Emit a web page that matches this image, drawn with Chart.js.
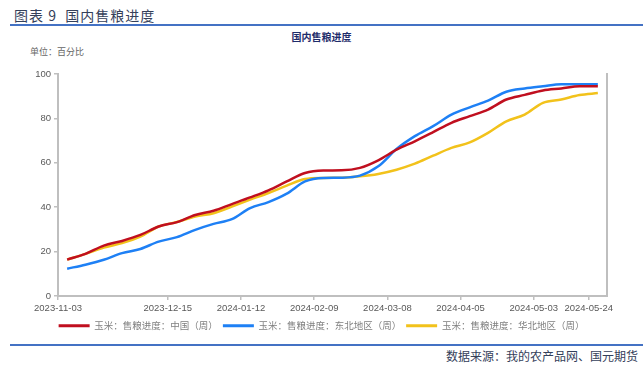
<!DOCTYPE html>
<html>
<head>
<meta charset="utf-8">
<script src="https://cdn.jsdelivr.net/npm/chart.js@4.4.1/dist/chart.umd.min.js"></script>
<style>
  html, body { margin:0; padding:0; background:#fff; }
  body { width:643px; height:367px; position:relative; overflow:hidden; font-family:"Noto Sans CJK SC", sans-serif; }
  #head { position:absolute; left:14px; top:5px; font-size:14px; color:#34405a; letter-spacing:1px; }
  #topRule { position:absolute; left:10px; right:0; top:24px; height:2px; background:#4472c4; }
  #title { position:absolute; left:0; width:643px; top:29px; text-align:center; font-size:10px; font-weight:bold; color:#1f2d6b; }
  #unit { position:absolute; left:30px; top:45px; font-size:9px; color:#666; }
  #wrap { position:absolute; left:0; top:60px; width:643px; height:272px; }
  #botRule { position:absolute; left:10px; right:0; top:344px; height:2px; background:#4472c4; }
  #src { position:absolute; right:5px; top:347px; font-size:12px; color:#34405a; }
</style>
</head>
<body>
<div id="head">图表 9&nbsp; 国内售粮进度</div>
<div id="topRule"></div>
<div id="title">国内售粮进度</div>
<div id="unit">单位：百分比</div>
<div id="wrap"><canvas id="c"></canvas></div>
<div id="botRule"></div>
<div id="src">数据来源：我的农产品网、国元期货</div>
<script>
// ============ Data ============
const DATES = [
  "2023-11-03","2023-11-10","2023-11-17","2023-11-24","2023-12-01","2023-12-08",
  "2023-12-15","2023-12-22","2023-12-29","2024-01-05","2024-01-12","2024-01-19",
  "2024-01-26","2024-02-02","2024-02-09","2024-02-16","2024-02-23","2024-03-01",
  "2024-03-08","2024-03-15","2024-03-22","2024-03-29","2024-04-05","2024-04-12",
  "2024-04-19","2024-04-26","2024-05-03","2024-05-10","2024-05-17","2024-05-24"
];
const TICK_DATES = ["2023-11-03","2023-12-15","2024-01-12","2024-02-09","2024-03-08","2024-04-05","2024-05-03","2024-05-24"];

const CHINA = [16.4,19.0,22.7,24.8,27.5,31.3,33.3,36.5,38.4,41.4,44.4,47.6,51.6,55.4,56.5,56.6,57.7,61.1,65.9,69.7,73.8,78.0,81.0,84.0,88.5,90.6,92.6,93.5,94.5,94.5];
const NORTHEAST = [12.3,14.1,16.3,19.3,21.2,24.5,26.5,29.8,32.5,34.6,39.6,42.3,46.1,51.6,53.2,53.3,54.2,58.4,66.2,72.0,76.5,81.7,85.0,88.0,92.0,93.5,94.5,95.4,95.4,95.4];
const NORTH = [16.4,19.0,21.8,23.8,26.8,31.3,33.3,35.8,37.3,40.3,43.4,46.4,49.7,52.7,53.2,53.3,53.9,55.0,56.9,59.6,63.2,66.7,69.2,73.5,78.7,81.7,87.0,88.5,90.5,91.4];

const NAMES = ["玉米：售粮进度：中国（周）","玉米：售粮进度：东北地区（周）","玉米：售粮进度：华北地区（周）"];
const COLORS = ["#c00f1f","#1e80f5","#f2c21b"];

// ============ Build ============
const series = [CHINA, NORTHEAST, NORTH];
const tickIdx = TICK_DATES.map(d => DATES.indexOf(d));

const datasets = series.map((arr, k) => ({
  label: NAMES[k],
  data: arr.map((v, i) => ({ x: i, y: v })),
  borderColor: COLORS[k],
  backgroundColor: COLORS[k],
  borderWidth: 2.5,
  pointRadius: 0,
  tension: 0.4,
  cubicInterpolationMode: "monotone"
}));

const AXIS = "#bfbfbf";
const LABEL = "#595959";

new Chart(document.getElementById("c"), {
  type: "line",
  data: { datasets },
  options: {
    responsive: true,
    maintainAspectRatio: false,
    animation: false,
    layout: { padding: { left: 0, right: 0, top: 14, bottom: 0 } },
    scales: {
      x: {
        type: "linear",
        min: -0.5,
        max: DATES.length - 0.5,
        afterBuildTicks: s => { s.ticks = tickIdx.map(i => ({ value: i - 0.5 })); },
        afterFit: s => { s.height = 20; },
        ticks: {
          autoSkip: false, maxRotation: 0, padding: 3,
          color: LABEL, font: { size: 9.5, family: "Liberation Sans" },
          callback: v => DATES[Math.round(v + 0.5)]
        },
        grid: { drawOnChartArea: false, tickLength: 4, color: AXIS, lineWidth: 1.5 },
        border: { color: AXIS, width: 2 }
      },
      y: {
        min: 0, max: 100,
        afterFit: s => { s.width = 58; },
        ticks: { stepSize: 20, padding: 3, color: LABEL, font: { size: 9.5, family: "Liberation Sans" } },
        grid: { drawOnChartArea: false, tickLength: 4, color: AXIS, lineWidth: 1.5 },
        border: { color: AXIS, width: 2 }
      },
      y2: {
        position: "right",
        min: 0, max: 100,
        afterFit: s => { s.width = 36; },
        ticks: { display: false },
        grid: { display: false, drawTicks: false },
        border: { color: AXIS, width: 2 }
      }
    },
    plugins: {
      legend: {
        position: "bottom",
        labels: {
          boxWidth: 31, boxHeight: 3, padding: 5,
          color: "#7f7f7f", font: { size: 9.5, family: "Noto Sans CJK SC" },
          generateLabels: chart => Chart.defaults.plugins.legend.labels.generateLabels(chart).map(l => ({ ...l, lineWidth: 0 }))
        }
      },
      tooltip: { enabled: false }
    }
  },
  plugins: [{
    // keep the legend row short so it sits close under the axis labels
    id: "legendRow",
    afterInit(chart) {
      const lg = chart.legend, fit = lg.fit;
      lg.fit = function () {
        fit.call(this);
        this.height = 16;
      };
    }
  }]
});
</script>
</body>
</html>
